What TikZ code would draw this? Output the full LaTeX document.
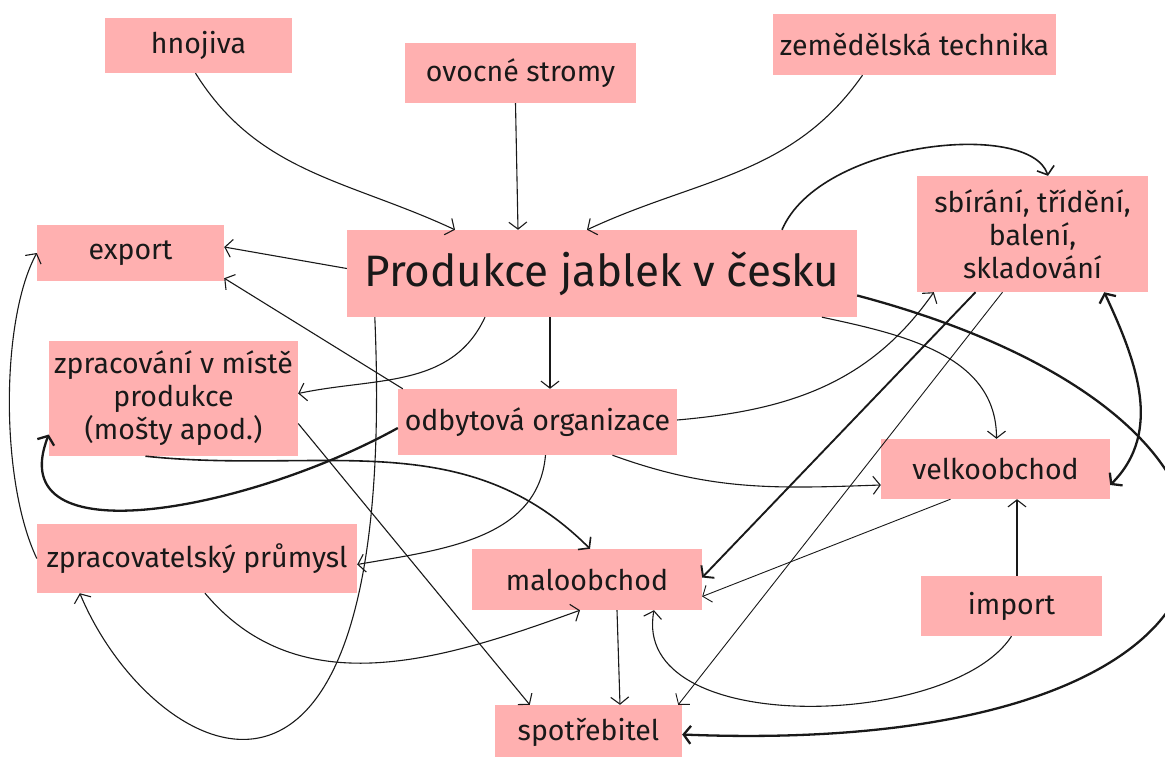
\documentclass[tikz,border=0pt]{standalone}
\usepackage{fontspec}
\setmainfont{Fira Sans}
\usepackage{tikz}
\usetikzlibrary{arrows.meta}
\definecolor{boxpink}{RGB}{255,176,176}
\definecolor{ink}{RGB}{25,25,25}

\begin{document}
\begin{tikzpicture}[x=1pt, y=-1pt,
  box/.style={fill=boxpink, inner sep=2pt, align=center, text=ink,
    font=\fontsize{28.5}{33}\selectfont},
  link/.style={draw=ink, line width=1.1pt, -{Straight Barb[length=7pt,width=18pt]}},
  strong/.style={link, line width=2.3pt}]
%%% apple production in Czechia %%%
\useasboundingbox (0,0) rectangle (1165,756);

      %% inputs
      \node[box, minimum width=187pt, minimum height=55pt] (hnoj) at (198.5,45.5) {hnojiva};
      \node[box, minimum width=231pt, minimum height=60pt] (stromy) at (520.5,73) {ovocné stromy};
      \node[box, minimum width=283pt, minimum height=61pt] (technika) at (914.5,44.5) {zemědělská technika};
      %% centre
      \node[box, minimum width=510pt, minimum height=87pt, font=\fontsize{44}{50}\selectfont] (produkce) at (602,273.5) {Produkce jablek v česku};
      %%
      \node[box, minimum width=187pt, minimum height=56pt] (export) at (130.5,253) {export};
      \node[box, minimum width=231pt, minimum height=116pt] (sber) at (1032.5,234) {sbírání, třídění,\\ balení,\\ skladování};
      \node[box, minimum width=249pt, minimum height=115pt] (mosty) at (173.5,398.5) {zpracování v místě\\ produkce\\ (mošty apod.)};
      \node[box, minimum width=279pt, minimum height=66pt] (odbyt) at (537.5,422) {odbytová organizace};
      \node[box, minimum width=229pt, minimum height=60pt] (velko) at (995.5,469) {velkoobchod};
      \node[box, minimum width=320pt, minimum height=69pt] (prumysl) at (197,558.5) {zpracovatelský průmysl};
      \node[box, minimum width=230pt, minimum height=61pt] (malo) at (587,579.5) {maloobchod};
      \node[box, minimum width=181pt, minimum height=60pt] (import) at (1011.5,606) {import};
      \node[box, minimum width=187pt, minimum height=55pt] (spotreb) at (588.5,732.5) {spotřebitel};

      %% into production
      \draw[link] ([xshift=-3pt]hnoj.south) to[out=-58, in=155] ([xshift=-147pt]produkce.north);
      \draw[link] ([xshift=-5pt]stromy.south) -- ([xshift=-84pt]produkce.north);
      \draw[link] ([xshift=-52pt]technika.south) to[out=-125, in=25] ([xshift=-15pt]produkce.north);
      %% out of production
      \draw[link] ([yshift=5pt]produkce.west) -- ([yshift=6pt]export.east);
      \draw[link] ([xshift=-117pt]produkce.south) to[out=-115, in=12] ([yshift=5pt]mosty.east);
      \draw[link] ([xshift=-52pt]produkce.south) -- ([xshift=12.5pt]odbyt.north);
      \draw[link, line width=1.6pt] ([xshift=180pt]produkce.north) .. controls +(38,-89) and +(-18,-56) .. ([xshift=15.5pt]sber.north);
      \draw[link] ([xshift=220pt]produkce.south) to[out=-12, in=90] ([xshift=1pt]velko.north);
      \draw[strong] ([yshift=-22pt]produkce.east) .. controls +(490,130) and +(620,25) .. ([yshift=-2pt]spotreb.east);
      \draw[link] ([xshift=28pt]produkce.south west) .. controls +(25,583) and +(70,168) .. ([xshift=43pt]prumysl.south west);
      %% sales organisation
      \draw[link] ([xshift=5pt]odbyt.north west) -- ([yshift=3pt]export.south east);
      \draw[strong] ([yshift=-6pt]odbyt.west) .. controls +(-148,82) and +(-49,125) .. ([yshift=-36pt]mosty.west);
      \draw[link] ([xshift=8pt]odbyt.south) to[out=-95, in=10] ([yshift=-6pt]prumysl.east);
      \draw[link] ([xshift=75pt]odbyt.south) to[out=-20, in=182] ([yshift=-16pt]velko.west);
      \draw[link] ([yshift=2pt]odbyt.east) to[out=5, in=-125] ([xshift=17pt]sber.south west);
      %% processing
      \draw[link, line width=1.6pt] ([xshift=-28pt]mosty.south) to[out=-6, in=135] ([xshift=3pt]malo.north);
      \draw[link] ([yshift=-25pt]mosty.east) -- ([xshift=35pt]spotreb.north west);
      \draw[link] (prumysl.west) .. controls +(-37,-78) and +(-36,66) .. (export.west);
      \draw[link] ([xshift=8pt]prumysl.south) to[out=-50, in=-160] ([xshift=-7pt]malo.south);
      %% trade
      \draw[link, line width=1.9pt] ([xshift=-57pt]sber.south) -- ([yshift=2pt]malo.east);
      \draw[link, line width=0.9pt] ([xshift=-30pt]sber.south) -- ([xshift=-4pt]spotreb.north east);
      \draw[strong, {Straight Barb[length=7pt,width=18pt]}-{Straight Barb[length=7pt,width=18pt]}] ([yshift=-16pt]velko.east) to[out=45, in=-65] ([xshift=-44pt]sber.south east);
      \draw[link, line width=0.9pt] ([xshift=-45pt]velko.south) -- ([yshift=-17pt]malo.east);
      \draw[link] ([xshift=5.5pt]import.north) -- ([xshift=21.5pt]velko.south);
      \draw[link] (import.south) .. controls +(-60,93) and +(-24,128) .. ([xshift=67pt]malo.south);
      \draw[link] ([xshift=30pt]malo.south) -- ([xshift=31.5pt]spotreb.north);

\end{tikzpicture}
\end{document}
